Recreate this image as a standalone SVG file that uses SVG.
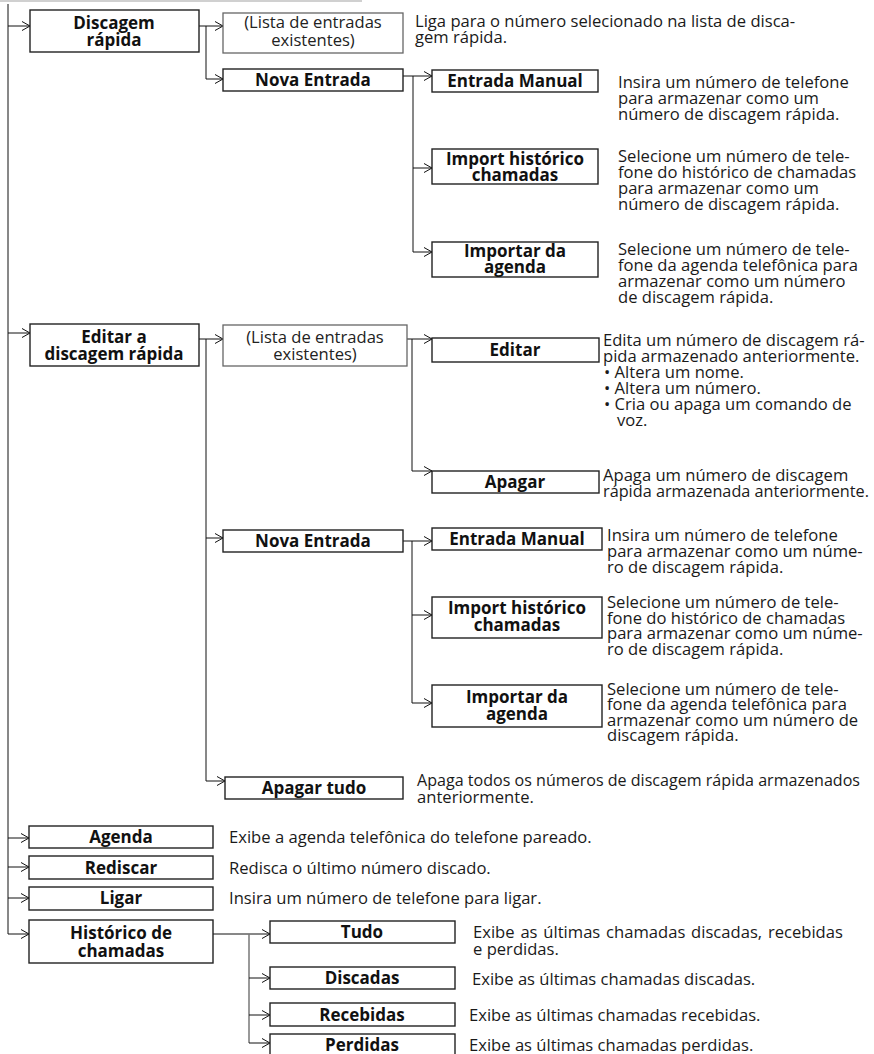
<svg xmlns="http://www.w3.org/2000/svg" width="874" height="1054" viewBox="0 0 874 1054">
<defs>
<marker id="ah" viewBox="0 0 8 10" refX="8" refY="5" markerWidth="8" markerHeight="10" markerUnits="userSpaceOnUse" orient="auto">
<path d="M0,0.5 L8,5 L0,9.5" fill="none" stroke="#111" stroke-width="1"/>
</marker>
<style>
.box{fill:#fff;stroke:#222;stroke-width:1.4}
.gbox{fill:#fff;stroke:#666;stroke-width:1.3}
.lbl{font-family:"Open Sans","Noto Sans",sans-serif;font-weight:bold;font-size:17px;fill:#111;text-anchor:middle}
.lt{font-family:"Open Sans","Noto Sans",sans-serif;font-size:16.6px;fill:#222;text-anchor:middle}
.d{font-family:"Open Sans","Noto Sans",sans-serif;font-size:16.6px;fill:#1a1a1a}
.c{fill:none;stroke:#111;stroke-width:1}
.a{fill:none;stroke:#111;stroke-width:1;marker-end:url(#ah)}
.ga{fill:none;stroke:#777;stroke-width:1.5}
</style>
</defs>
<rect x="0" y="0" width="362" height="2" fill="#d0d0d0"/>
<g id="connectors">
<path class="c" d="M8,4 V934"/>
<path class="a" d="M8,26 H30"/>
<path class="a" d="M8,333 H30"/>
<path class="a" d="M8,838 H29"/>
<path class="a" d="M8,867 H29"/>
<path class="a" d="M8,898 H29"/>
<path class="a" d="M8,934 H29"/>
<path class="a" d="M199,26 H223"/>
<path class="a" d="M206,26 V79 H223"/>
<path class="a" d="M403,76 H432"/>
<path class="a" d="M413,76 V168 H432"/>
<path class="a" d="M413,168 V252 H432"/>
<path class="a" d="M199,339 H223"/>
<path class="a" d="M206,339 V538 H223"/>
<path class="a" d="M206,538 V781 H225"/>
<path class="a" d="M407,339 H432"/>
<path class="a" d="M412,339 V471 H432"/>
<path class="a" d="M403,541 H432"/>
<path class="a" d="M412,541 V615 H432"/>
<path class="a" d="M412,615 V703 H432"/>
<path class="a" d="M213,934 H270"/>
<path class="ga" d="M249,934 V1043"/>
<path class="a" d="M249,978 H270"/>
<path class="a" d="M249,1015 H270"/>
<path class="a" d="M249,1043 H270"/>
</g>
<g id="n-discagem">
<rect class="box" x="30" y="10" width="169" height="42"/>
<text class="lbl" x="114" y="29">Discagem</text>
<text class="lbl" x="114" y="46">rápida</text>
</g>
<g id="n-lista1">
<rect class="gbox" x="223" y="13" width="180" height="40"/>
<text class="lt" x="313" y="28">(Lista de entradas</text>
<text class="lt" x="313" y="46">existentes)</text>
<text class="d" x="415" y="27">Liga para o número selecionado na lista de disca-</text>
<text class="d" x="415" y="43">gem rápida.</text>
</g>
<g id="n-nova1">
<rect class="box" x="223" y="69" width="180" height="22"/>
<text class="lbl" x="313" y="86">Nova Entrada</text>
</g>
<g id="n-manual1">
<rect class="box" x="432" y="70" width="166" height="22"/>
<text class="lbl" x="515" y="87">Entrada Manual</text>
<text class="d" x="618" y="88">Insira um número de telefone</text>
<text class="d" x="618" y="104">para armazenar como um</text>
<text class="d" x="618" y="120">número de discagem rápida.</text>
</g>
<g id="n-hist1">
<rect class="box" x="432" y="149" width="166" height="35"/>
<text class="lbl" x="515" y="165">Import histórico</text>
<text class="lbl" x="515" y="181">chamadas</text>
<text class="d" x="618" y="162">Selecione um número de tele-</text>
<text class="d" x="618" y="178">fone do histórico de chamadas</text>
<text class="d" x="618" y="194">para armazenar como um</text>
<text class="d" x="618" y="210">número de discagem rápida.</text>
</g>
<g id="n-agenda1">
<rect class="box" x="432" y="242" width="166" height="35"/>
<text class="lbl" x="515" y="257">Importar da</text>
<text class="lbl" x="515" y="273">agenda</text>
<text class="d" x="618" y="255">Selecione um número de tele-</text>
<text class="d" x="618" y="271">fone da agenda telefônica para</text>
<text class="d" x="618" y="287">armazenar como um número</text>
<text class="d" x="618" y="303">de discagem rápida.</text>
</g>
<g id="n-editarad">
<rect class="box" x="30" y="324" width="169" height="42"/>
<text class="lbl" x="114" y="343">Editar a</text>
<text class="lbl" x="114" y="360">discagem rápida</text>
</g>
<g id="n-lista2">
<rect class="gbox" x="223" y="325" width="184" height="41"/>
<text class="lt" x="315" y="343">(Lista de entradas</text>
<text class="lt" x="315" y="360">existentes)</text>
</g>
<g id="n-editar">
<rect class="box" x="432" y="338" width="167" height="24"/>
<text class="lbl" x="515" y="356">Editar</text>
<text class="d" x="603" y="346">Edita um número de discagem rá-</text>
<text class="d" x="603" y="362">pida armazenado anteriormente.</text>
<text class="d" x="604" y="378">• Altera um nome.</text>
<text class="d" x="604" y="394">• Altera um número.</text>
<text class="d" x="604" y="410">• Cria ou apaga um comando de</text>
<text class="d" x="617" y="426">voz.</text>
</g>
<g id="n-apagar">
<rect class="box" x="432" y="471" width="167" height="22"/>
<text class="lbl" x="515" y="488">Apagar</text>
<text class="d" x="603" y="481">Apaga um número de discagem</text>
<text class="d" x="603" y="497" textLength="266" lengthAdjust="spacingAndGlyphs">rápida armazenada anteriormente.</text>
</g>
<g id="n-nova2">
<rect class="box" x="223" y="530" width="180" height="22"/>
<text class="lbl" x="313" y="547">Nova Entrada</text>
</g>
<g id="n-manual2">
<rect class="box" x="432" y="528" width="170" height="22"/>
<text class="lbl" x="517" y="545">Entrada Manual</text>
<text class="d" x="607" y="541">Insira um número de telefone</text>
<text class="d" x="607" y="557">para armazenar como um núme-</text>
<text class="d" x="607" y="573">ro de discagem rápida.</text>
</g>
<g id="n-hist2">
<rect class="box" x="432" y="597" width="170" height="41"/>
<text class="lbl" x="517" y="614">Import histórico</text>
<text class="lbl" x="517" y="631">chamadas</text>
<text class="d" x="607" y="608">Selecione um número de tele-</text>
<text class="d" x="607" y="624">fone do histórico de chamadas</text>
<text class="d" x="607" y="639">para armazenar como um núme-</text>
<text class="d" x="607" y="655">ro de discagem rápida.</text>
</g>
<g id="n-agenda2">
<rect class="box" x="432" y="685" width="170" height="42"/>
<text class="lbl" x="517" y="703">Importar da</text>
<text class="lbl" x="517" y="720">agenda</text>
<text class="d" x="607" y="695">Selecione um número de tele-</text>
<text class="d" x="607" y="710">fone da agenda telefônica para</text>
<text class="d" x="607" y="726">armazenar como um número de</text>
<text class="d" x="607" y="741">discagem rápida.</text>
</g>
<g id="n-apagartudo">
<rect class="box" x="225" y="777" width="178" height="22"/>
<text class="lbl" x="314" y="794">Apagar tudo</text>
<text class="d" x="417" y="786" textLength="443" lengthAdjust="spacingAndGlyphs">Apaga todos os números de discagem rápida armazenados</text>
<text class="d" x="417" y="803">anteriormente.</text>
</g>
<g id="n-agenda">
<rect class="box" x="29" y="826" width="184" height="22"/>
<text class="lbl" x="121" y="843">Agenda</text>
<text class="d" x="229" y="843">Exibe a agenda telefônica do telefone pareado.</text>
</g>
<g id="n-rediscar">
<rect class="box" x="29" y="856" width="184" height="23"/>
<text class="lbl" x="121" y="874">Rediscar</text>
<text class="d" x="229" y="874">Redisca o último número discado.</text>
</g>
<g id="n-ligar">
<rect class="box" x="29" y="887" width="184" height="23"/>
<text class="lbl" x="121" y="904">Ligar</text>
<text class="d" x="229" y="904">Insira um número de telefone para ligar.</text>
</g>
<g id="n-historico">
<rect class="box" x="29" y="920" width="184" height="43"/>
<text class="lbl" x="121" y="939">Histórico de</text>
<text class="lbl" x="121" y="957">chamadas</text>
</g>
<g id="n-tudo">
<rect class="box" x="270" y="921" width="185" height="22"/>
<text class="lbl" x="362" y="938">Tudo</text>
<text class="d" x="473" y="938" word-spacing="1.5">Exibe as últimas chamadas discadas, recebidas</text>
<text class="d" x="473" y="955">e perdidas.</text>
</g>
<g id="n-discadas">
<rect class="box" x="270" y="967" width="185" height="22"/>
<text class="lbl" x="362" y="984">Discadas</text>
<text class="d" x="472" y="985">Exibe as últimas chamadas discadas.</text>
</g>
<g id="n-recebidas">
<rect class="box" x="270" y="1003" width="185" height="23"/>
<text class="lbl" x="362" y="1021">Recebidas</text>
<text class="d" x="469" y="1021">Exibe as últimas chamadas recebidas.</text>
</g>
<g id="n-perdidas">
<rect class="box" x="270" y="1034" width="185" height="24"/>
<text class="lbl" x="362" y="1051">Perdidas</text>
<text class="d" x="469" y="1051">Exibe as últimas chamadas perdidas.</text>
</g>
</svg>
